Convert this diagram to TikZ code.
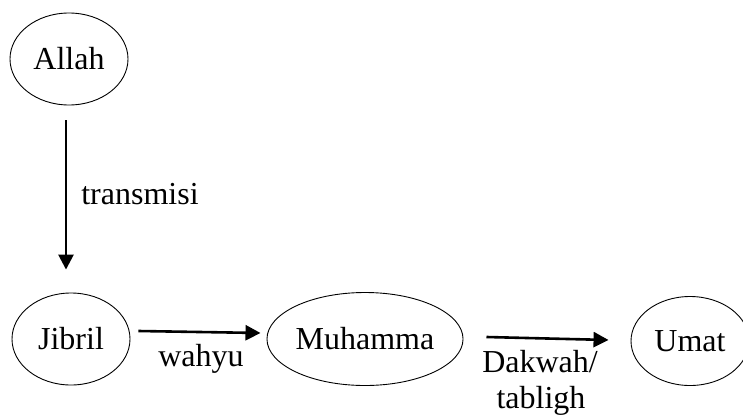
\documentclass[tikz,border=0pt]{standalone}
\usepackage{fontspec}
\setmainfont{Liberation Serif}
\usetikzlibrary{shapes.geometric,arrows.meta}

\tikzset{
  actor/.style={draw, ellipse, line width=0.9pt, inner sep=0pt,
    minimum width=118pt, minimum height=92pt, font=\fontsize{32}{37}\selectfont},
  flow/.style={line width=2.6pt, -{Triangle[length=15pt,width=15pt]}},
  tag/.style={font=\fontsize{32}{37}\selectfont, align=center, inner sep=0pt}
}

\begin{document}
\begin{tikzpicture}[x=1pt,y=-1pt]
            \useasboundingbox (0,0) rectangle (743,415);

            \node[actor] (allah) at (69,59) {Allah};
            \node[actor] (jibril) at (71,339) {Jibril};
            \node[actor, minimum width=164pt, minimum height=93pt] (muhammad) at (365,339) {Muhamma};
            \node[actor, minimum height=89pt] (umat) at (690,341) {Umat};

            \draw[flow] ([xshift=-3pt,yshift=-15pt]allah.south) -- ([xshift=-5pt,yshift=23pt]jibril.north);
            \draw[flow] ([xshift=8pt,yshift=8pt]jibril.east) -- ([xshift=-6pt,yshift=6pt]muhammad.west);
            \draw[flow] ([xshift=23pt,yshift=2pt]muhammad.east) -- ([xshift=-22pt,yshift=1pt]umat.west);

            \node[tag] (transmisi) at (140,194) {transmisi};
            \node[tag] (wahyu) at (201,359) {wahyu};
            \node[tag] (dakwah) at (540,362) {Dakwah/};
            \node[tag] (tabligh) at (541,401) {tabligh};
         \end{tikzpicture}
\end{document}
